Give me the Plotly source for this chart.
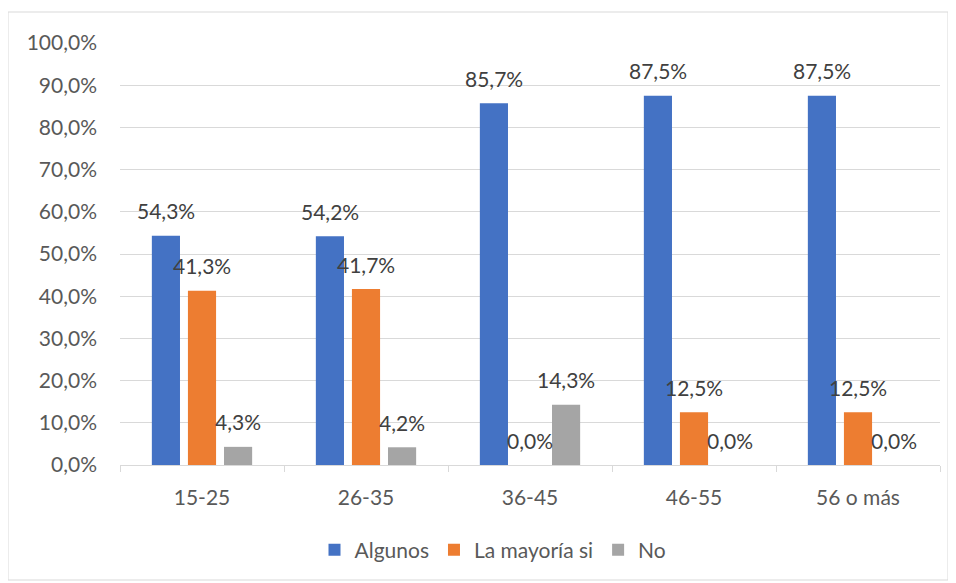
import plotly.graph_objects as go

categories = ["15-25", "26-35", "36-45", "46-55", "56 o más"]
algunos = [54.3, 54.2, 85.7, 87.5, 87.5]
mayoria = [41.3, 41.7, 0.0, 12.5, 12.5]
no = [4.3, 4.2, 14.3, 0.0, 0.0]
tick_vals = [0, 10, 20, 30, 40, 50, 60, 70, 80, 90, 100]
tick_text = ["0,0%", "10,0%", "20,0%", "30,0%", "40,0%", "50,0%", "60,0%", "70,0%", "80,0%", "90,0%", "100,0%"]

series = [("Algunos", algunos, "#4472C4"), ("La mayoría si", mayoria, "#ED7D31"), ("No", no, "#A5A5A5")]

# the page body adds an 8px offset; compensate so the plot lands at page px 120..940 x 43..465
OFF = 8
W, H = 956 - OFF, 583 - OFF
L, T = 120 - OFF, 43 - OFF
R = W - (940 - OFF)
B = H - (465 - OFF)
pw, ph = W - L - R, H - T - B
FS = 21
FONT = "Lato"

bargap, bargroupgap = 0.34, 0.22
cat_px = pw / len(categories)
slot_px = cat_px * (1 - bargap) / len(series)

fig = go.Figure()
annotations = []
for i, (name, vals, color) in enumerate(series):
    fig.add_trace(go.Bar(
        x=categories, y=vals, name=name, marker=dict(color=color, line=dict(width=0)),
        hoverinfo="skip",
    ))
    shift = (i - (len(series) - 1) / 2) * slot_px
    for c, v in zip(categories, vals):
        annotations.append(dict(
            x=c, y=v, xref="x", yref="y", text=f"{v:.1f}%".replace(".", ","),
            showarrow=False, xshift=shift, yshift=25, yanchor="middle", xanchor="center",
            font=dict(family=FONT, size=FS, color="#404040"),
        ))

def px_x(page_x):
    return (page_x - OFF - L) / pw

def px_y(page_y):
    return (T + ph - (page_y - OFF)) / ph

fig.update_layout(
    width=W, height=H, margin=dict(l=L, r=R, t=T, b=B, autoexpand=False),
    paper_bgcolor="white", plot_bgcolor="white",
    barmode="group", bargap=bargap, bargroupgap=bargroupgap,
    font=dict(family=FONT, size=FS, color="#595959"),
    showlegend=True,
    legend=dict(orientation="h", x=px_x(493), xanchor="center", y=px_y(550), yanchor="middle",
                font=dict(family=FONT, size=FS, color="#595959"), itemwidth=30),
    annotations=annotations,
    shapes=[dict(type="rect", xref="paper", yref="paper",
                 x0=px_x(8), x1=px_x(948), y0=px_y(580), y1=px_y(12),
                 line=dict(color="#D9D9D9", width=1), fillcolor="rgba(0,0,0,0)", layer="below")],
)
fig.update_yaxes(range=[0, 100], tickvals=tick_vals, ticktext=tick_text, showgrid=True,
                 gridcolor="#D9D9D9", gridwidth=1, zeroline=False, showline=False,
                 tickfont=dict(family=FONT, size=FS, color="#595959"), ticklabelstandoff=22)
fig.update_xaxes(showline=True, linecolor="#D9D9D9", linewidth=1, ticks="outside",
                 tickcolor="#D9D9D9", ticklen=6, tickson="boundaries", ticklabelstandoff=14,
                 tickfont=dict(family=FONT, size=FS, color="#595959"))
fig.write_html("out.html")
